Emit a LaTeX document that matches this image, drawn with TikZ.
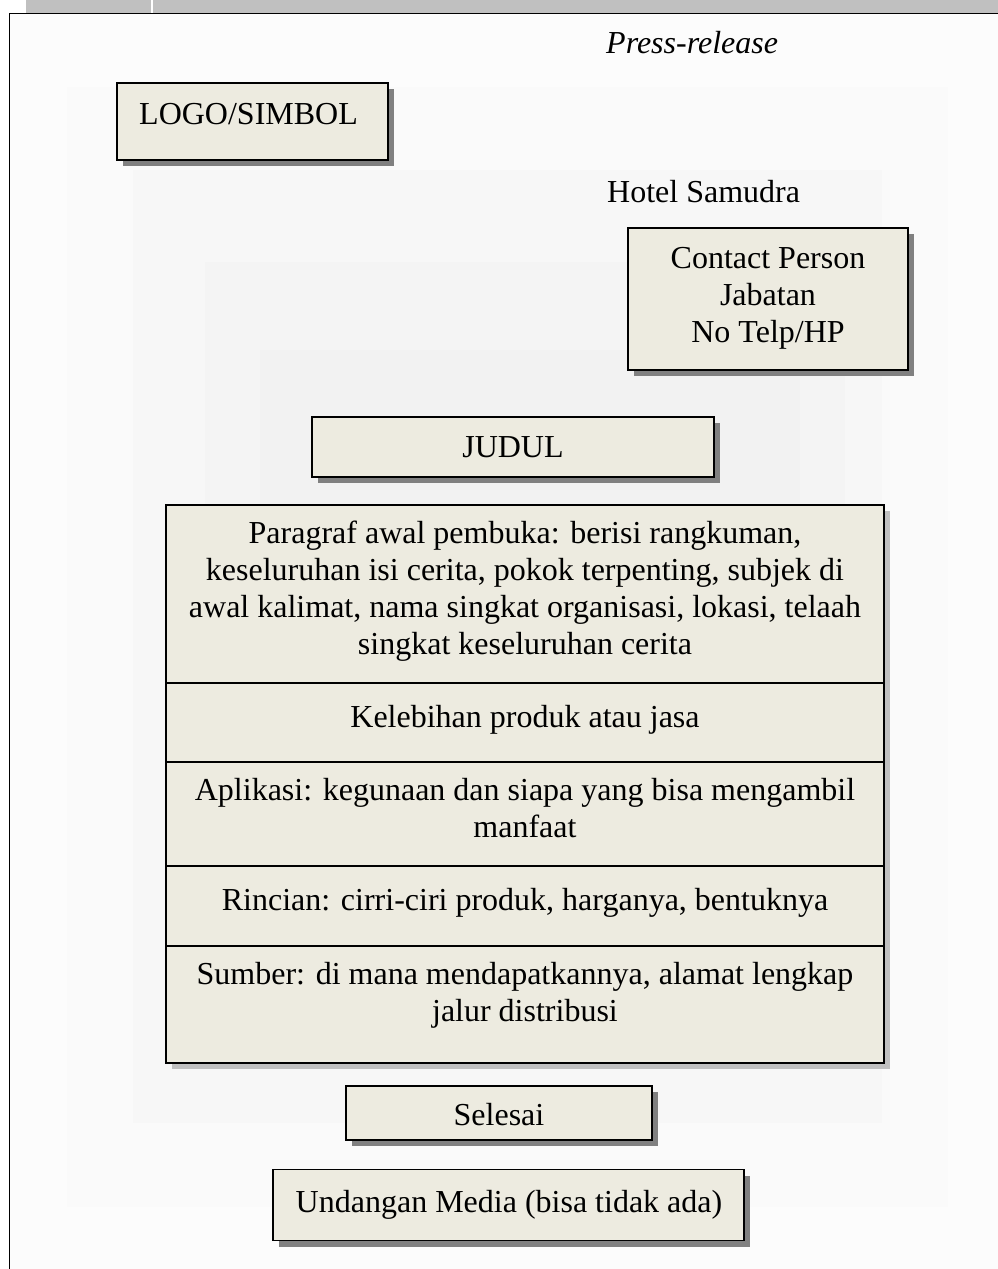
\documentclass[tikz,border=0pt]{standalone}
\usepackage{fontspec}
\setmainfont{Liberation Serif}
\usetikzlibrary{shadows}

\definecolor{boxfill}{HTML}{EDEBE0}
\definecolor{headgray}{HTML}{C0C0C0}
\definecolor{shadowdark}{HTML}{808080}
\definecolor{shadowlight}{HTML}{C0C0C0}
\definecolor{paper}{HTML}{FCFCFC}
\definecolor{haze1}{HTML}{FAFAFA}
\definecolor{haze2}{HTML}{F7F7F7}
\definecolor{haze3}{HTML}{F4F4F4}
\definecolor{haze4}{HTML}{F2F2F2}

\tikzset{
  card/.style={draw=black, line width=1.6pt, fill=boxfill, inner sep=0pt,
    drop shadow={shadow xshift=6pt, shadow yshift=-6pt, fill=shadowdark, opacity=1}},
  bigcard/.style={draw=black, line width=1.6pt, fill=boxfill, inner sep=0pt,
    drop shadow={shadow xshift=6pt, shadow yshift=-6pt, fill=shadowlight, opacity=1}},
  txt/.style={inner sep=0pt, font=\fontsize{32}{37}\selectfont},
  mtxt/.style={txt, align=center, anchor=north},
  divider/.style={line width=1.6pt}
}

\begin{document}
\begin{tikzpicture}[x=1pt, y=-1pt]
\useasboundingbox (0,0) rectangle (998,1269);
\fill[white] (0,0) rectangle (998,1269);

% page header strip
\fill[headgray] (26,0) rectangle (998,13);
\draw[white, line width=1.5pt] (152,0) -- (152,13);

% page area with soft shading
\fill[paper] (9.5,13.5) rectangle (998,1269);
\fill[haze1] (67,87) rectangle (948,1207);
\fill[haze2] (133,170) rectangle (882,1123);
\fill[haze3] (205,262) rectangle (845,1050);
\fill[haze4] (260,350) rectangle (800,960);
\draw[line width=1.5pt] (998,13.5) -- (9.5,13.5) -- (9.5,1269);

% heading texts
\node[txt, anchor=base west, font=\fontsize{32}{37}\selectfont\itshape] (press) at (606,53) {Press-release};
\node[txt, anchor=base west] (hotel) at (607,202) {Hotel Samudra};

% logo box
\node[card, minimum width=271pt, minimum height=77pt] (logo) at (252.5,121.5) {};
\node[txt, anchor=base west] (logotext) at (139,124) {LOGO/SIMBOL};

% contact box
\node[card, minimum width=280pt, minimum height=142pt] (contact) at (768,299) {};
\node[mtxt] (contacttext) at (768,242.1) {\strut Contact Person\\Jabatan\\No Telp/HP};

% title box
\node[card, minimum width=402pt, minimum height=60pt] (judul) at (513,447) {};
\node[txt, anchor=base] (judultext) at (513,457) {JUDUL};

% body structure box
\node[bigcard, minimum width=718pt, minimum height=558pt] (body) at (525,784) {};
\draw[divider] (body.west |- 0,683) -- (body.east |- 0,683);
\draw[divider] (body.west |- 0,762) -- (body.east |- 0,762);
\draw[divider] (body.west |- 0,866) -- (body.east |- 0,866);
\draw[divider] (body.west |- 0,946) -- (body.east |- 0,946);

\node[mtxt] (lead) at (525,517.1) {\strut Paragraf awal pembuka: berisi rangkuman,\\keseluruhan isi cerita, pokok terpenting, subjek di\\awal kalimat, nama singkat organisasi, lokasi, telaah\\singkat keseluruhan cerita};
\node[txt, anchor=base] (kelebihan) at (525,727) {Kelebihan produk atau jasa};
\node[mtxt] (aplikasi) at (525,774.1) {\strut Aplikasi: kegunaan dan siapa yang bisa mengambil\\manfaat};
\node[txt, anchor=base] (rincian) at (525,910) {Rincian: cirri-ciri produk, harganya, bentuknya};
\node[mtxt] (sumber) at (525,958.1) {\strut Sumber: di mana mendapatkannya, alamat lengkap\\jalur distribusi};

% closing boxes
\node[card, minimum width=306pt, minimum height=54pt] (selesai) at (499,1113) {};
\node[txt, anchor=base] (selesaitext) at (499,1125) {Selesai};

\node[card, minimum width=471pt, minimum height=71pt] (undangan) at (508.5,1205) {};
\node[txt, anchor=base] (undangantext) at (509,1212) {Undangan Media (bisa tidak ada)};
\end{tikzpicture}
\end{document}
